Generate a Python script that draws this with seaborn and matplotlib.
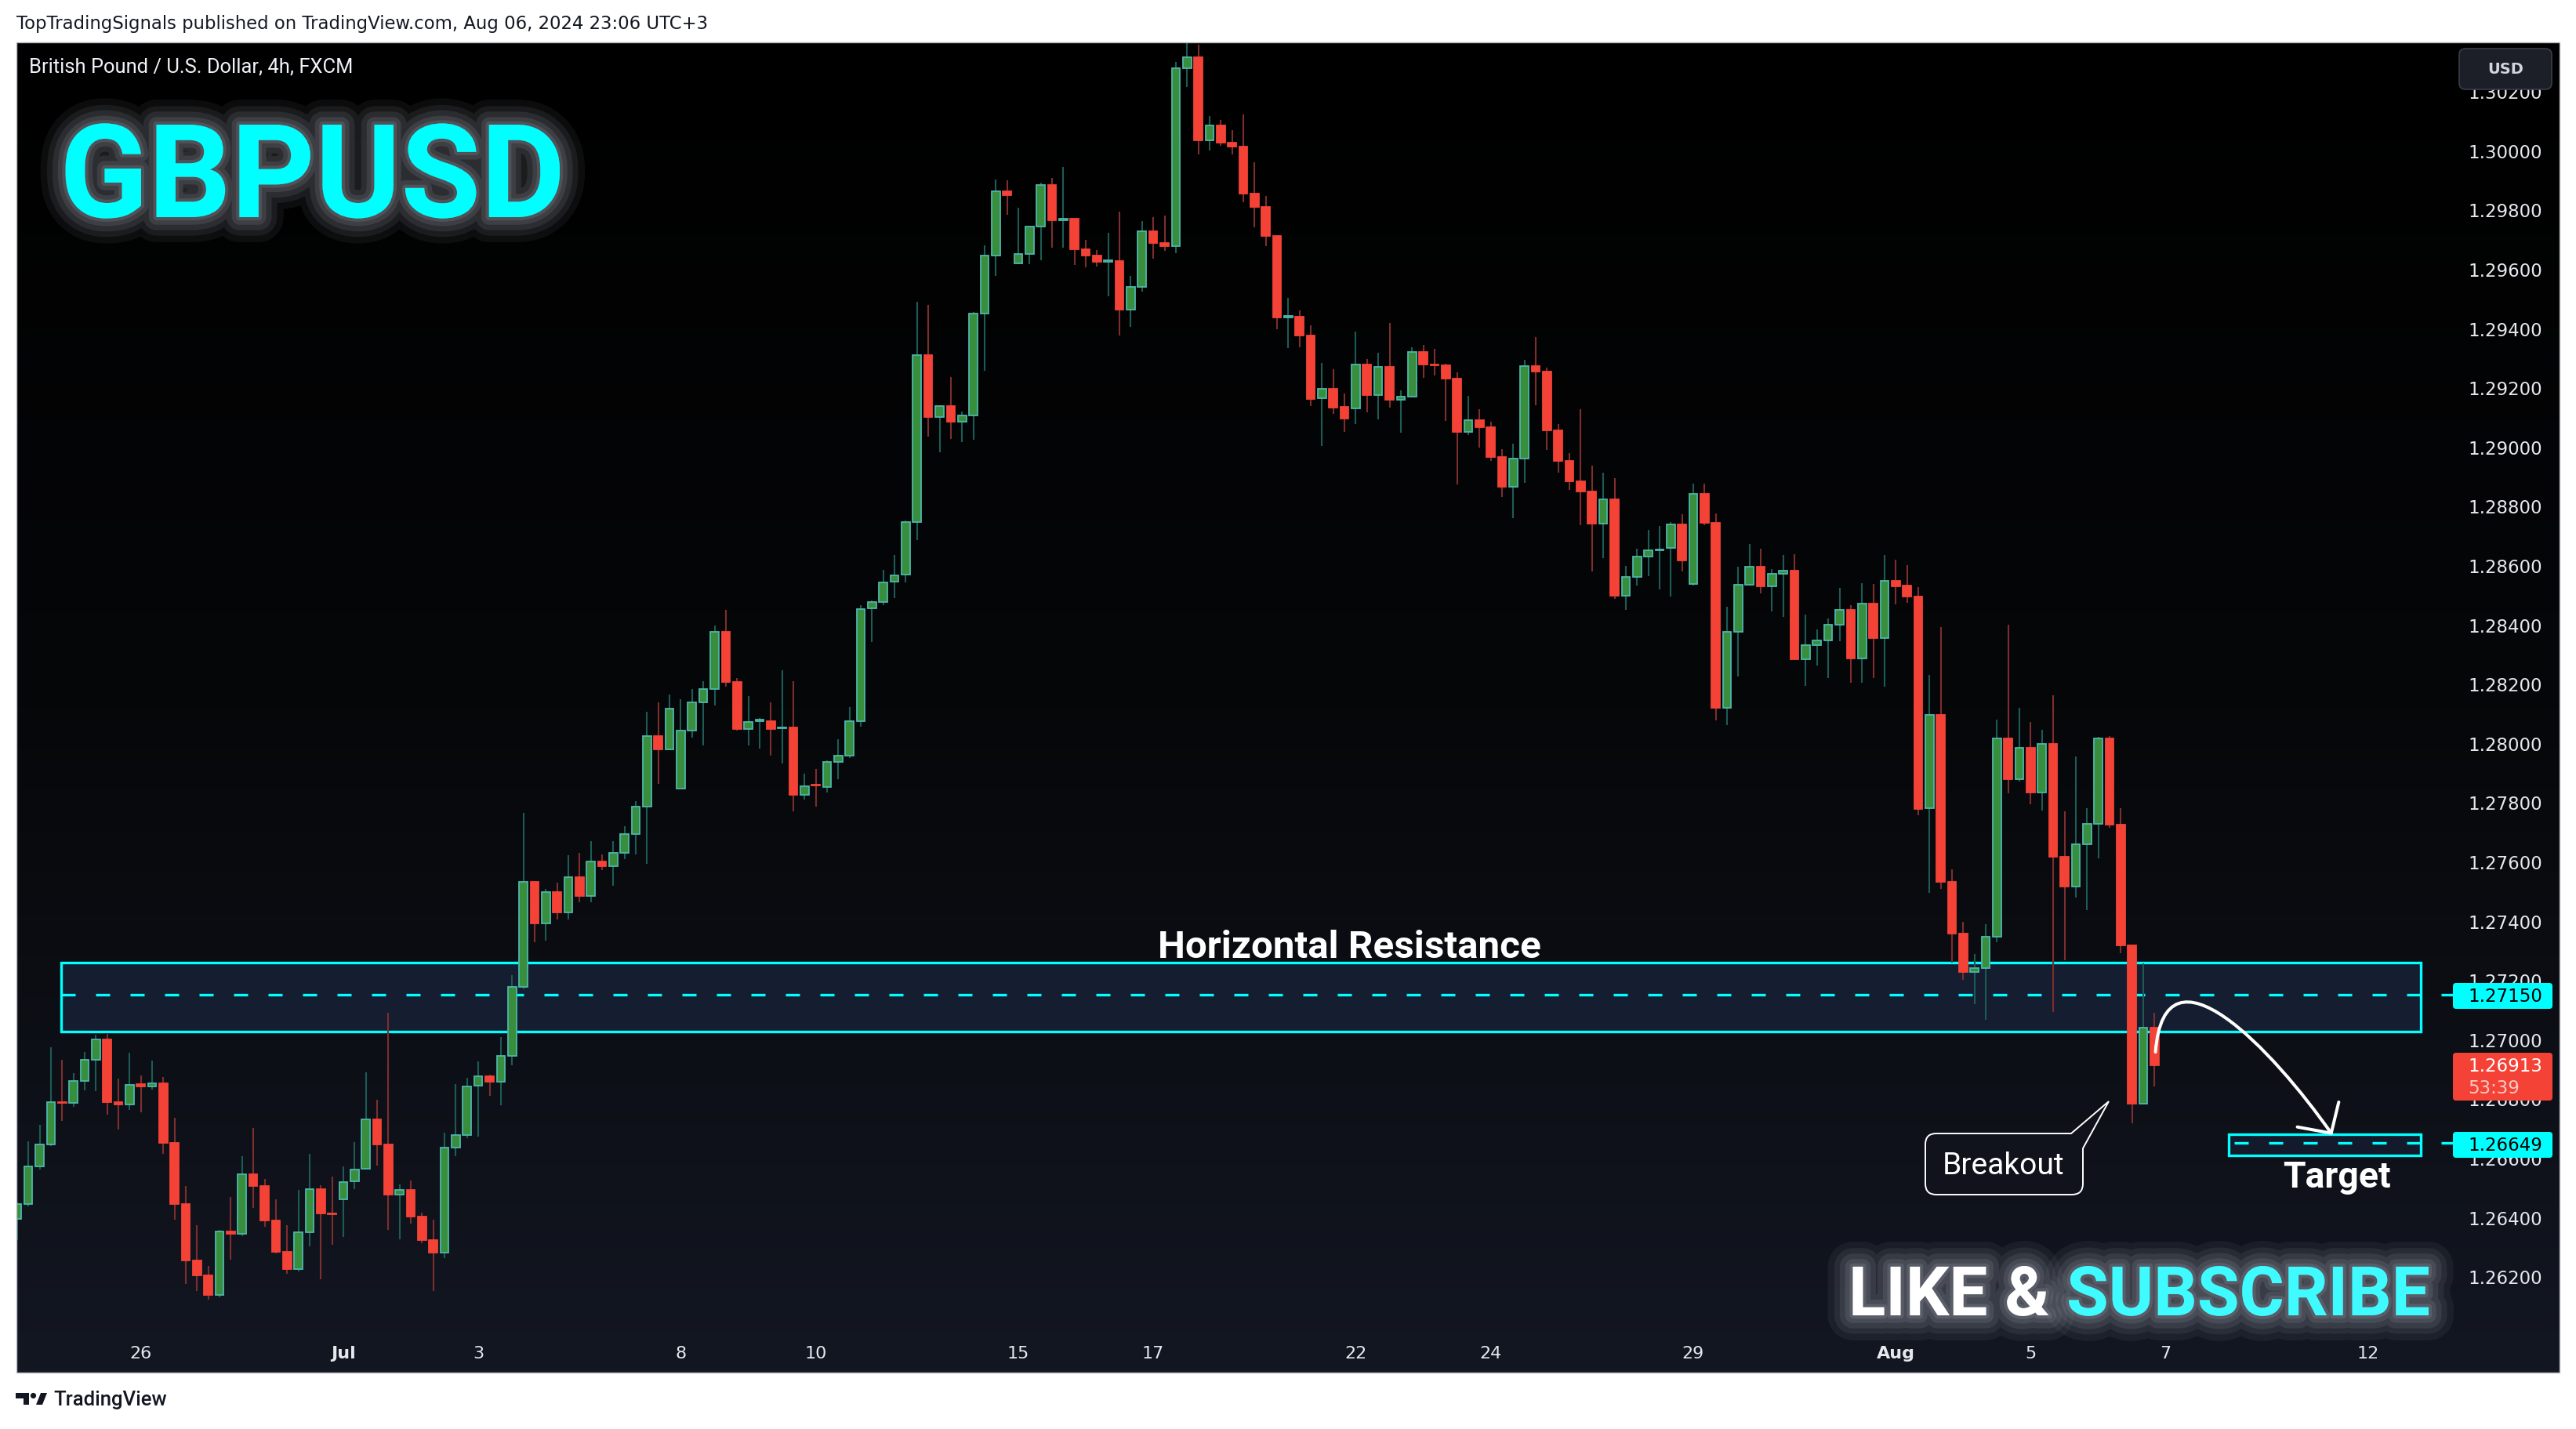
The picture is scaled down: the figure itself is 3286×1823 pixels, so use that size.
import numpy as np
import pandas as pd
import matplotlib
matplotlib.use("Agg")
import matplotlib.pyplot as plt
import seaborn as sns
from matplotlib.patches import Rectangle, FancyBboxPatch, PathPatch, Polygon, Circle
from matplotlib.path import Path
from matplotlib.colors import LinearSegmentedColormap
from matplotlib.transforms import IdentityTransform
import matplotlib.patheffects as pe

sns.set_theme(style="dark")
plt.rcParams["font.family"] = ["Roboto", "DejaVu Sans"]

# ------------------------------------------------------------------ data
# GBPUSD 4h candles (FXCM), Jun 24 2024 -> Aug 06 2024 20:00 (UTC+3)
opens = [
    1.26394, 1.26443, 1.26570, 1.26646, 1.26788, 1.26784, 1.26858, 1.26932, 1.27000, 1.26789,
    1.26780, 1.26848, 1.26840, 1.26850, 1.26649, 1.26443, 1.26253, 1.26204, 1.26136, 1.26352,
    1.26343, 1.26544, 1.26504, 1.26388, 1.26282, 1.26224, 1.26348, 1.26495, 1.26412, 1.26460,
    1.26521, 1.26562, 1.26730, 1.26646, 1.26475, 1.26491, 1.26401, 1.26321, 1.26279, 1.26634,
    1.26676, 1.26844, 1.26875, 1.26857, 1.26945, 1.27178, 1.27530, 1.27392, 1.27496, 1.27428,
    1.27546, 1.27484, 1.27601, 1.27583, 1.27630, 1.27693, 1.27784, 1.28022, 1.27977, 1.27846,
    1.28043, 1.28137, 1.28182, 1.28374, 1.28205, 1.28048, 1.28074, 1.28074, 1.28049, 1.28053,
    1.27825, 1.27858, 1.27850, 1.27935, 1.27957, 1.28074, 1.28454, 1.28476, 1.28544, 1.28567,
    1.28746, 1.29310, 1.29099, 1.29138, 1.29084, 1.29104, 1.29450, 1.29646, 1.29863, 1.29619,
    1.29651, 1.29742, 1.29882, 1.29765, 1.29768, 1.29666, 1.29644, 1.29625, 1.29627, 1.29462,
    1.29539, 1.29728, 1.29686, 1.29676, 1.30278, 1.30315, 1.30034, 1.30083, 1.30027, 1.30012,
    1.29853, 1.29808, 1.29710, 1.29436, 1.29438, 1.29376, 1.29163, 1.29195, 1.29135, 1.29128,
    1.29276, 1.29173, 1.29268, 1.29158, 1.29170, 1.29319, 1.29277, 1.29275, 1.29229, 1.29049,
    1.29090, 1.29065, 1.28964, 1.28865, 1.28961, 1.29272, 1.29254, 1.29056, 1.28951, 1.28882,
    1.28849, 1.28741, 1.28822, 1.28498, 1.28560, 1.28630, 1.28649, 1.28658, 1.28737, 1.28536,
    1.28842, 1.28744, 1.28119, 1.28374, 1.28535, 1.28596, 1.28529, 1.28570, 1.28582, 1.28283,
    1.28329, 1.28345, 1.28398, 1.28448, 1.28286, 1.28471, 1.28355, 1.28547, 1.28531, 1.28493,
    1.27779, 1.28096, 1.27532, 1.27356, 1.27227, 1.27241, 1.27345, 1.28016, 1.27878, 1.27983,
    1.27832, 1.27997, 1.27616, 1.27516, 1.27658, 1.27728, 1.28016, 1.27724, 1.27316, 1.26783,
    1.27040,
]
highs = [
    1.26449, 1.26656, 1.26711, 1.26972, 1.26930, 1.26886, 1.26956, 1.27015, 1.27018, 1.26866,
    1.26954, 1.26877, 1.26927, 1.26872, 1.26734, 1.26504, 1.26372, 1.26235, 1.26357, 1.26467,
    1.26605, 1.26701, 1.26529, 1.26460, 1.26373, 1.26492, 1.26613, 1.26507, 1.26536, 1.26571,
    1.26652, 1.26888, 1.26796, 1.27089, 1.26509, 1.26522, 1.26414, 1.26390, 1.26685, 1.26848,
    1.26870, 1.26925, 1.26880, 1.27008, 1.27217, 1.27765, 1.27535, 1.27507, 1.27528, 1.27620,
    1.27629, 1.27669, 1.27624, 1.27669, 1.27719, 1.27805, 1.28105, 1.28137, 1.28163, 1.28147,
    1.28182, 1.28208, 1.28396, 1.28450, 1.28220, 1.28158, 1.28084, 1.28136, 1.28246, 1.28208,
    1.27896, 1.27912, 1.27940, 1.28012, 1.28121, 1.28464, 1.28480, 1.28584, 1.28635, 1.28750,
    1.29489, 1.29479, 1.29141, 1.29236, 1.29119, 1.29455, 1.29679, 1.29902, 1.29899, 1.29806,
    1.29743, 1.29890, 1.29907, 1.29944, 1.29770, 1.29698, 1.29664, 1.29722, 1.29792, 1.29576,
    1.29762, 1.29774, 1.29781, 1.30299, 1.30369, 1.30356, 1.30116, 1.30103, 1.30069, 1.30120,
    1.29959, 1.29845, 1.29715, 1.29502, 1.29460, 1.29410, 1.29283, 1.29261, 1.29179, 1.29389,
    1.29296, 1.29317, 1.29417, 1.29190, 1.29335, 1.29343, 1.29330, 1.29279, 1.29251, 1.29171,
    1.29127, 1.29084, 1.28991, 1.29009, 1.29293, 1.29370, 1.29266, 1.29076, 1.28979, 1.29127,
    1.28936, 1.28912, 1.28894, 1.28597, 1.28656, 1.28719, 1.28733, 1.28746, 1.28772, 1.28876,
    1.28876, 1.28774, 1.28459, 1.28595, 1.28671, 1.28656, 1.28587, 1.28635, 1.28637, 1.28433,
    1.28384, 1.28420, 1.28523, 1.28466, 1.28539, 1.28536, 1.28635, 1.28618, 1.28600, 1.28526,
    1.28229, 1.28391, 1.27573, 1.27395, 1.27287, 1.27389, 1.28079, 1.28399, 1.28119, 1.28070,
    1.28044, 1.28160, 1.27770, 1.27954, 1.27781, 1.28020, 1.28023, 1.27779, 1.27320, 1.27257,
    1.27090,
]
lows = [
    1.26321, 1.26436, 1.26561, 1.26640, 1.26725, 1.26771, 1.26828, 1.26824, 1.26745, 1.26696,
    1.26762, 1.26753, 1.26831, 1.26612, 1.26390, 1.26173, 1.26149, 1.26120, 1.26130, 1.26257,
    1.26336, 1.26432, 1.26367, 1.26277, 1.26208, 1.26217, 1.26302, 1.26189, 1.26306, 1.26332,
    1.26495, 1.26560, 1.26574, 1.26357, 1.26326, 1.26379, 1.26312, 1.26149, 1.26261, 1.26605,
    1.26666, 1.26671, 1.26809, 1.26777, 1.26911, 1.27170, 1.27327, 1.27332, 1.27405, 1.27403,
    1.27463, 1.27463, 1.27572, 1.27517, 1.27609, 1.27625, 1.27591, 1.27862, 1.27975, 1.27846,
    1.28019, 1.27991, 1.28126, 1.28191, 1.28042, 1.27991, 1.27982, 1.27956, 1.27930, 1.27769,
    1.27810, 1.27786, 1.27833, 1.27878, 1.27950, 1.28056, 1.28340, 1.28466, 1.28488, 1.28542,
    1.28684, 1.29033, 1.28981, 1.29025, 1.29015, 1.29023, 1.29256, 1.29575, 1.29782, 1.29617,
    1.29615, 1.29630, 1.29671, 1.29671, 1.29614, 1.29605, 1.29608, 1.29507, 1.29376, 1.29404,
    1.29524, 1.29634, 1.29661, 1.29652, 1.30214, 1.29985, 1.30000, 1.30015, 1.29985, 1.29826,
    1.29740, 1.29678, 1.29396, 1.29333, 1.29335, 1.29137, 1.29003, 1.29111, 1.29051, 1.29075,
    1.29116, 1.29093, 1.29133, 1.29046, 1.29165, 1.29231, 1.29239, 1.29087, 1.28872, 1.29039,
    1.28996, 1.28951, 1.28831, 1.28760, 1.28879, 1.29141, 1.28990, 1.28913, 1.28854, 1.28736,
    1.28579, 1.28624, 1.28486, 1.28449, 1.28531, 1.28564, 1.28519, 1.28493, 1.28579, 1.28530,
    1.28734, 1.28075, 1.28061, 1.28225, 1.28531, 1.28505, 1.28445, 1.28425, 1.28281, 1.28192,
    1.28261, 1.28218, 1.28344, 1.28204, 1.28204, 1.28218, 1.28190, 1.28468, 1.28473, 1.27757,
    1.27494, 1.27507, 1.27260, 1.27200, 1.27119, 1.27066, 1.27327, 1.27829, 1.27870, 1.27794,
    1.27773, 1.27092, 1.27267, 1.27477, 1.27435, 1.27610, 1.27715, 1.27290, 1.26717, 1.26780,
    1.26842,
]
closes = [
    1.26443, 1.26570, 1.26646, 1.26787, 1.26786, 1.26858, 1.26932, 1.27000, 1.26789, 1.26780,
    1.26846, 1.26840, 1.26850, 1.26649, 1.26443, 1.26253, 1.26204, 1.26136, 1.26352, 1.26343,
    1.26544, 1.26504, 1.26388, 1.26282, 1.26224, 1.26348, 1.26495, 1.26411, 1.26410, 1.26519,
    1.26561, 1.26730, 1.26646, 1.26475, 1.26491, 1.26401, 1.26321, 1.26279, 1.26634, 1.26676,
    1.26841, 1.26875, 1.26857, 1.26945, 1.27178, 1.27530, 1.27392, 1.27496, 1.27428, 1.27546,
    1.27484, 1.27601, 1.27583, 1.27630, 1.27693, 1.27784, 1.28022, 1.27977, 1.28115, 1.28043,
    1.28137, 1.28182, 1.28374, 1.28205, 1.28048, 1.28072, 1.28078, 1.28048, 1.28052, 1.27825,
    1.27855, 1.27856, 1.27935, 1.27957, 1.28074, 1.28453, 1.28476, 1.28542, 1.28566, 1.28746,
    1.29310, 1.29099, 1.29138, 1.29084, 1.29104, 1.29450, 1.29646, 1.29863, 1.29848, 1.29651,
    1.29742, 1.29882, 1.29765, 1.29768, 1.29666, 1.29644, 1.29625, 1.29628, 1.29462, 1.29539,
    1.29728, 1.29686, 1.29676, 1.30278, 1.30315, 1.30034, 1.30083, 1.30027, 1.30012, 1.29853,
    1.29808, 1.29710, 1.29436, 1.29440, 1.29376, 1.29161, 1.29195, 1.29133, 1.29096, 1.29276,
    1.29173, 1.29268, 1.29158, 1.29170, 1.29319, 1.29276, 1.29275, 1.29229, 1.29049, 1.29090,
    1.29065, 1.28964, 1.28865, 1.28961, 1.29272, 1.29254, 1.29056, 1.28951, 1.28882, 1.28849,
    1.28741, 1.28822, 1.28498, 1.28560, 1.28630, 1.28649, 1.28652, 1.28737, 1.28617, 1.28842,
    1.28744, 1.28119, 1.28374, 1.28535, 1.28596, 1.28529, 1.28570, 1.28582, 1.28283, 1.28329,
    1.28345, 1.28398, 1.28448, 1.28286, 1.28471, 1.28355, 1.28547, 1.28529, 1.28493, 1.27777,
    1.28096, 1.27532, 1.27356, 1.27227, 1.27241, 1.27345, 1.28016, 1.27878, 1.27983, 1.27832,
    1.27997, 1.27616, 1.27516, 1.27658, 1.27728, 1.28016, 1.27724, 1.27316, 1.26783, 1.27040,
    1.26913,
]

# time axis: bar index of the first 4h bar of each labelled day
day_tick_index = [11, 29, 41, 59, 71, 89, 101, 119, 131, 149, 167, 179, 191, 209]
day_tick_label = ["26", "Jul", "3", "8", "10", "15", "17", "22", "24", "29", "Aug", "5", "7", "12"]
month_labels = ["Jul", "Aug"]

price_ticks = [1.262, 1.264, 1.266, 1.268, 1.270, 1.272, 1.274, 1.276, 1.278, 1.280, 1.282,
               1.284, 1.286, 1.288, 1.290, 1.292, 1.294, 1.296, 1.298, 1.300, 1.302]
price_tick_labels = ["1.26200", "1.26400", "1.26600", "1.26800", "1.27000", "1.27200", "1.27400",
                     "1.27600", "1.27800", "1.28000", "1.28200", "1.28400", "1.28600", "1.28800",
                     "1.29000", "1.29200", "1.29400", "1.29600", "1.29800", "1.30000", "1.30200"]

zone_low, zone_high, zone_level = 1.27027, 1.27260, 1.27150
target_low, target_high, target_level = 1.26608, 1.26680, 1.26649
last_price = 1.26913
countdown = "53:39"

# ------------------------------------------------------------------ layout
W, H = 3286, 1824
PL, PR, PT, PB = 21, 3265, 54.5, 1752      # chart panel (px, top origin)
AXR = 3118                                   # right edge of the plot area
BAR0, BAR_STEP = 21.8, 14.35                 # px of bar 0 and px per bar
P_REF, Y_REF, PX_PER_UNIT = 1.30, 192.8, 37800.0

CYAN = "#00ffff"
UP_FILL, UP_EDGE, UP_WICK = "#388e3c", "#4db6ac", "#1d5c56"
DN_FILL, DN_EDGE, DN_WICK = "#f44336", "#f44336", "#7e2e2e"
LABEL = "#e6e8ee"

fig = plt.figure(figsize=(W / 100, H / 100), dpi=100, facecolor="white")


def fr(x, y):
    return x / W, 1 - y / H


def dp(x, y):
    return (x, H - y)


# background panel with vertical gradient
bg = fig.add_axes([PL / W, 1 - PB / H, (PR - PL) / W, (PB - PT) / H], zorder=0)
grad = np.linspace(0, 1, 512).reshape(-1, 1)
cmap = LinearSegmentedColormap.from_list("tvbg", ["#000000", "#060709", "#131722"])
bg.imshow(grad, aspect="auto", cmap=cmap, extent=[0, 1, 0, 1], origin="upper")
bg.set_axis_off()

ax = fig.add_axes([PL / W, 1 - PB / H, (AXR - PL) / W, (PB - PT) / H], zorder=1)
ax.patch.set_alpha(0)
ax.set_xlim((PL - BAR0) / BAR_STEP, (AXR - BAR0) / BAR_STEP)
ax.set_ylim(P_REF - (PB - Y_REF) / PX_PER_UNIT, P_REF + (Y_REF - PT) / PX_PER_UNIT)
for s in ax.spines.values():
    s.set_visible(False)
ax.grid(False)

# ------------------------------------------------------------------ candles
df = pd.DataFrame({"open": opens, "high": highs, "low": lows, "close": closes})
df["i"] = np.arange(len(df))
df["up"] = df["close"] >= df["open"]
df["body_lo"] = df[["open", "close"]].min(axis=1)
df["body_h"] = (df["close"] - df["open"]).abs().clip(lower=0.00003)

up = df[df["up"]]
dn = df[~df["up"]]
ax.vlines(up["i"], up["low"], up["high"], color=UP_WICK, lw=1.5, zorder=3)
ax.vlines(dn["i"], dn["low"], dn["high"], color=DN_WICK, lw=1.5, zorder=3)
ax.bar(up["i"], up["body_h"], bottom=up["body_lo"], width=0.74, color=UP_FILL,
       edgecolor=UP_EDGE, linewidth=1.3, zorder=4)
ax.bar(dn["i"], dn["body_h"], bottom=dn["body_lo"], width=0.74, color=DN_FILL,
       edgecolor=DN_EDGE, linewidth=1.3, zorder=4)

# ------------------------------------------------------------------ zones
zx0, zx1 = 3.91, 213.7
tx0 = 196.6
x_scale_end = (3129 - BAR0) / BAR_STEP
ax.add_patch(Rectangle((zx0, zone_low), zx1 - zx0, zone_high - zone_low,
                       facecolor="#151d30", edgecolor="none", zorder=1))
ax.add_patch(Rectangle((zx0, zone_low), zx1 - zx0, zone_high - zone_low,
                       facecolor="none", edgecolor=CYAN, lw=2.4, zorder=2))
ax.plot([zx0, x_scale_end], [zone_level, zone_level], color=CYAN, lw=2.4,
        dashes=(5.4, 7.8), zorder=1.5, clip_on=False)

ax.add_patch(Rectangle((tx0, target_low), zx1 - tx0, target_high - target_low,
                       facecolor="#131a2b", edgecolor="none", zorder=1))
ax.add_patch(Rectangle((tx0, target_low), zx1 - tx0, target_high - target_low,
                       facecolor="none", edgecolor=CYAN, lw=2.4, zorder=2))
ax.plot([tx0 + 0.5, x_scale_end], [target_level, target_level], color=CYAN, lw=2.4,
        dashes=(5.4, 7.8), zorder=1.5, clip_on=False)

# ------------------------------------------------------------------ projection arrow
arrow_path = Path([(190.09, 1.26957), (190.9, 1.27355), (200.6, 1.26960), (205.71, 1.26683)],
                  [Path.MOVETO, Path.CURVE4, Path.CURVE4, Path.CURVE4])
ax.add_patch(PathPatch(arrow_path, facecolor="none", edgecolor="white", lw=2.9,
                       capstyle="round", zorder=6, clip_on=False))
ax.plot([206.38, 205.71, 202.70], [1.26788, 1.26683, 1.26704], color="white", lw=2.9,
        solid_joinstyle="round", solid_capstyle="round", zorder=6)

# ------------------------------------------------------------------ axes labels
ax.yaxis.tick_right()
ax.set_yticks(price_ticks)
ax.set_yticklabels(price_tick_labels, fontfamily="DejaVu Sans", fontsize=16.5, color=LABEL)
ax.tick_params(axis="y", length=0, pad=21.6)
ax.set_xticks([])

xt = ax.get_xaxis_transform()
for i, lab in zip(day_tick_index, day_tick_label):
    ax.text(i, (PB - 1727) / (PB - PT), lab, transform=xt, ha="center", va="center",
            fontsize=16, color=LABEL, fontfamily="DejaVu Sans",
            fontweight="bold" if lab in month_labels else "normal", clip_on=False)

# ------------------------------------------------------------------ panel frame & price-scale badges
ident = IdentityTransform()
fig.add_artist(Rectangle(dp(PL, PB), PR - PL, PB - PT, transform=ident, facecolor="none",
                         edgecolor="#b2b5be", lw=1.0, zorder=20))

fig.add_artist(FancyBboxPatch(dp(3137, 115), 118, 52, boxstyle="round,pad=0,rounding_size=8",
                              transform=ident, facecolor="#1c1f28", edgecolor="#3a3e4a",
                              lw=1.2, zorder=21))
fig.text(*fr(3196, 88), "USD", ha="center", va="center", fontsize=14, color="#d1d4dc",
         fontfamily="DejaVu Sans", fontweight="bold", zorder=22)

for (ytop, ybot, col) in [(1255, 1288, CYAN), (1445, 1478, CYAN), (1344, 1405, DN_FILL)]:
    fig.add_artist(FancyBboxPatch(dp(3129, ybot), 3256 - 3129, ybot - ytop,
                                  boxstyle="round,pad=0,rounding_size=4", transform=ident,
                                  facecolor=col, edgecolor="none", zorder=21))
fig.text(*fr(3148, 1271.5), f"{zone_level:.5f}", ha="left", va="center", fontsize=16.5,
         color="#000000", fontfamily="DejaVu Sans", zorder=22)
fig.text(*fr(3148, 1461.5), f"{target_level:.5f}", ha="left", va="center", fontsize=16.5,
         color="#000000", fontfamily="DejaVu Sans", zorder=22)
fig.text(*fr(3148, 1361), f"{last_price:.5f}", ha="left", va="center", fontsize=16.5,
         color="#ffffff", fontfamily="DejaVu Sans", zorder=22)
fig.text(*fr(3148, 1389), countdown, ha="left", va="center", fontsize=16.5,
         color="#fbc9c4", fontfamily="DejaVu Sans", zorder=22)

# ------------------------------------------------------------------ Breakout callout
l, t, r, b, rad = 2456, 1447, 2657, 1525, 14
verts = [dp(l + rad, t), dp(2642, t), dp(2690, 1406), dp(r, 1466), dp(r, b - rad), dp(r, b),
         dp(r - rad, b), dp(l + rad, b), dp(l, b), dp(l, b - rad), dp(l, t + rad), dp(l, t),
         dp(l + rad, t), dp(l + rad, t)]
codes = [Path.MOVETO, Path.LINETO, Path.LINETO, Path.LINETO, Path.LINETO, Path.CURVE3,
         Path.CURVE3, Path.LINETO, Path.CURVE3, Path.CURVE3, Path.LINETO, Path.CURVE3,
         Path.CURVE3, Path.CLOSEPOLY]
fig.add_artist(PathPatch(Path(verts, codes), transform=ident, facecolor="#10131c",
                         edgecolor="white", lw=1.4, zorder=15))

# ------------------------------------------------------------------ texts
glow = [pe.Stroke(linewidth=w, foreground="#9ea3ad", alpha=a)
        for w, a in [(46, 0.08), (34, 0.10), (24, 0.13), (14, 0.16), (6, 0.2)]] + [pe.Normal()]

t_header = fig.text(*fr(21, 37), "TopTradingSignals published on TradingView.com, Aug 06, 2024 23:06 UTC+3",
                    ha="left", va="baseline", fontsize=15, color="#131722", fontfamily="DejaVu Sans")
t_symbol = fig.text(*fr(37, 93), "British Pound / U.S. Dollar, 4h, FXCM", ha="left",
                    va="baseline", fontsize=16, color="#f0f3fa", zorder=16)
t_title = fig.text(*fr(76, 278), "GBPUSD", ha="left", va="baseline", fontsize=120,
                   fontweight="bold", color=CYAN, zorder=16, path_effects=glow)
t_res = fig.text(*fr(1721.6, 1222), "Horizontal Resistance", ha="center", va="baseline",
                 fontsize=28, fontweight="bold", color="white", zorder=16)
t_target = fig.text(*fr(2981, 1515), "Target", ha="center", va="baseline", fontsize=32,
                    fontweight="bold", color="white", zorder=16)
t_break = fig.text(*fr(2556, 1498), "Breakout", ha="center", va="baseline", fontsize=25,
                   color="white", zorder=16)
t_like = fig.text(*fr(2358, 1679), "LIKE &", ha="left", va="baseline", fontsize=62,
                  fontweight="bold", color="white", zorder=16, path_effects=glow)
t_sub = fig.text(*fr(3100, 1679), "SUBSCRIBE", ha="right", va="baseline", fontsize=62,
                 fontweight="bold", color="#3ffbff", zorder=16, path_effects=glow)
t_tv = fig.text(*fr(68, 1793), "TradingView", ha="left", va="baseline", fontsize=15,
                color="#131722", fontweight="medium")

# TradingView logo
fig.add_artist(Polygon([dp(20, 1778), dp(37, 1778), dp(37, 1793), dp(29.5, 1793),
                        dp(29.5, 1785), dp(20, 1785)], closed=True, transform=ident,
                       facecolor="#131722", edgecolor="none"))
fig.add_artist(Circle(dp(42.5, 1781.5), 3.6, transform=ident, facecolor="#131722",
                      edgecolor="none"))
fig.add_artist(Polygon([dp(46, 1793), dp(52, 1778), dp(60, 1778), dp(54, 1793)], closed=True,
                       transform=ident, facecolor="#131722", edgecolor="none"))

# fit text widths to the reference
fig.canvas.draw()
rend = fig.canvas.get_renderer()


def fit(txt, target):
    w = txt.get_window_extent(rend).width
    txt.set_fontsize(txt.get_fontsize() * target / w)


fit(t_header, 883)
fit(t_symbol, 413)
fit(t_title, 645)
fit(t_res, 488)
fit(t_target, 138)
fit(t_break, 156)
fit(t_sub, 464)
t_like.set_fontsize(t_sub.get_fontsize())
fit(t_tv, 145)

fig.savefig("out.png", dpi=100, facecolor="white")
